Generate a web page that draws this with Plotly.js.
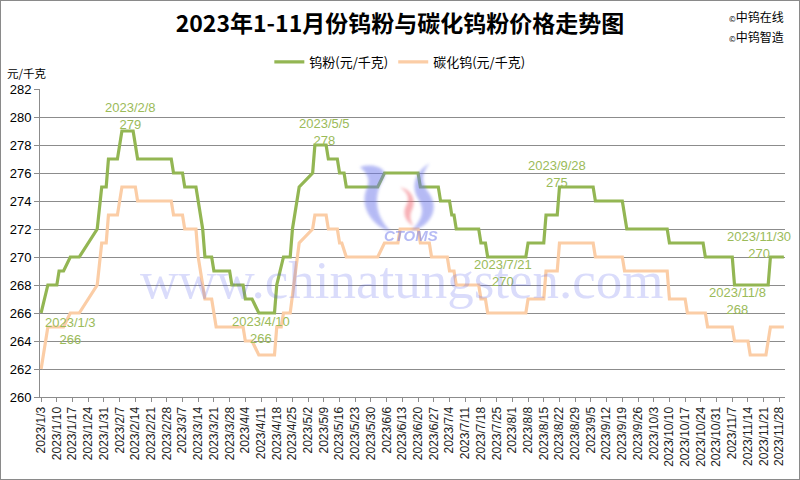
<!DOCTYPE html>
<html>
<head>
<meta charset="utf-8">
<script src="https://cdn.plot.ly/plotly-3.0.1.min.js"></script>
<style>
  html, body { margin: 0; padding: 0; background: #fff; }
  #wrap { position: relative; width: 800px; height: 480px; }
  #chart { width: 800px; height: 480px; }
  #frame { position: absolute; left: 0; top: 0; width: 800px; height: 480px; box-sizing: border-box; border: 1px solid #8a8a8a; pointer-events: none; }
</style>
</head>
<body>
<div id="wrap"><div id="chart"></div><div id="frame"></div></div>
<script>
// ---- Data ----
const seriesNames = ['钨粉(元/千克)', '碳化钨(元/千克)'];

// 钨粉 (tungsten powder) price change points
const powderDates = ['2023-01-03','2023-01-06','2023-01-10','2023-01-11','2023-01-13','2023-01-16','2023-01-20','2023-01-28','2023-01-30','2023-02-01','2023-02-02','2023-02-06','2023-02-08','2023-02-13','2023-02-15','2023-03-02','2023-03-03','2023-03-07','2023-03-08','2023-03-13','2023-03-16','2023-03-17','2023-03-20','2023-03-21','2023-03-28','2023-03-29','2023-04-03','2023-04-04','2023-04-07','2023-04-10','2023-04-17','2023-04-18','2023-04-21','2023-04-24','2023-04-25','2023-04-28','2023-05-04','2023-05-05','2023-05-10','2023-05-11','2023-05-15','2023-05-16','2023-05-18','2023-05-19','2023-06-02','2023-06-05','2023-06-20','2023-06-21','2023-06-29','2023-06-30','2023-07-04','2023-07-05','2023-07-06','2023-07-07','2023-07-17','2023-07-18','2023-07-20','2023-07-21','2023-08-07','2023-08-08','2023-08-15','2023-08-16','2023-08-21','2023-08-22','2023-09-06','2023-09-07','2023-09-19','2023-09-20','2023-09-21','2023-10-09','2023-10-10','2023-10-25','2023-10-26','2023-11-07','2023-11-08','2023-11-23','2023-11-24','2023-11-30'];
const powderValues = [266,268,268,269,269,270,270,272,275,275,277,277,279,279,277,277,276,276,275,275,272,270,270,269,269,268,268,267,267,266,266,268,270,270,272,275,276,278,278,277,277,276,276,275,275,276,276,275,275,274,274,273,273,272,272,271,271,270,270,271,271,273,273,275,275,274,274,273,272,272,271,271,270,270,268,268,270,270];

// 碳化钨 (tungsten carbide powder) price change points
const carbideDates = ['2023-01-03','2023-01-06','2023-01-13','2023-01-16','2023-01-20','2023-01-28','2023-01-30','2023-02-01','2023-02-02','2023-02-06','2023-02-08','2023-02-14','2023-02-15','2023-03-02','2023-03-03','2023-03-07','2023-03-08','2023-03-13','2023-03-14','2023-03-17','2023-03-20','2023-03-22','2023-04-03','2023-04-04','2023-04-07','2023-04-10','2023-04-17','2023-04-18','2023-04-20','2023-04-21','2023-04-24','2023-04-28','2023-05-04','2023-05-05','2023-05-10','2023-05-11','2023-05-15','2023-05-16','2023-05-17','2023-05-19','2023-06-02','2023-06-05','2023-06-11','2023-06-12','2023-06-20','2023-06-21','2023-06-25','2023-06-26','2023-07-03','2023-07-04','2023-07-06','2023-07-07','2023-07-17','2023-07-18','2023-07-20','2023-07-21','2023-08-07','2023-08-08','2023-08-15','2023-08-16','2023-08-21','2023-08-22','2023-09-06','2023-09-07','2023-09-19','2023-09-20','2023-10-09','2023-10-10','2023-10-17','2023-10-18','2023-10-26','2023-10-27','2023-11-07','2023-11-08','2023-11-14','2023-11-15','2023-11-22','2023-11-24','2023-11-30'];
const carbideValues = [262,265,265,266,266,268,271,271,273,273,275,275,274,274,273,273,272,272,270,267,267,265,265,264,264,263,263,265,265,266,266,271,272,273,273,272,272,271,271,270,270,271,271,272,272,271,271,270,270,269,269,268,268,267,267,266,266,267,267,269,269,271,271,270,270,269,269,267,267,266,266,265,265,264,264,263,263,265,265];

// Data labels (text) of the tungsten powder series
const labelDates  = ['2023/1/3','2023/2/8','2023/4/10','2023/5/5','2023/7/21','2023/9/28','2023/11/8','2023/11/30'];
const labelValues = [266, 279, 266, 278, 270, 275, 268, 270];

// Y-axis tick values
const yTicks = [260,262,264,266,268,270,272,274,276,278,280,282];

// ---- Styling / positions (not data) ----
const labelPosX = ['2023-01-15 22:00','2023-02-11 17:00','2023-04-10 22:00','2023-05-09 05:00','2023-07-28 00:00','2023-08-20 19:00','2023-11-09 10:00','2023-11-18 22:00'];
const labelPosY = [264.71, 280.04, 264.8, 278.93, 268.86, 275.93, 266.84, 270.89];

const GREEN = '#93B653';
const LABEL_GREEN = '#9BBB59';
const PEACH = '#FBCDA6';
const GRID = '#8c8c8c';
const CJK = '"Noto Sans CJK SC", "Liberation Sans", sans-serif';
const LAT = '"Liberation Sans", "Noto Sans CJK SC", sans-serif';

const traces = [
  { x: powderDates, y: powderValues, name: seriesNames[0], type: 'scatter', mode: 'lines',
    line: { color: GREEN, width: 3.2 }, hoverinfo: 'x+y' },
  { x: carbideDates, y: carbideValues, name: seriesNames[1], type: 'scatter', mode: 'lines',
    line: { color: PEACH, width: 3.2 }, hoverinfo: 'x+y' }
];

const annotations = labelDates.map((d, i) => ({
  x: labelPosX[i], y: labelPosY[i], xref: 'x', yref: 'y',
  text: d + '<br>' + labelValues[i], showarrow: false,
  xanchor: 'center', yanchor: 'middle',
  font: { family: LAT, size: 13, color: LABEL_GREEN }
}));

annotations.push(
  { xref: 'paper', yref: 'paper', x: -0.047, y: 1.052, xanchor: 'left', yanchor: 'middle',
    text: '元/千克', showarrow: false, font: { family: CJK, size: 11.5, color: '#000' } },
  { xref: 'paper', yref: 'paper', x: 0.922, y: 1.237, xanchor: 'left', yanchor: 'middle',
    text: '<span style="font-size:8px">©</span>中钨在线', showarrow: false, font: { family: CJK, size: 12, color: '#000' } },
  { xref: 'paper', yref: 'paper', x: 0.922, y: 1.169, xanchor: 'left', yanchor: 'middle',
    text: '<span style="font-size:8px">©</span>中钨智造', showarrow: false, font: { family: CJK, size: 12, color: '#000' } },
  { xref: 'paper', yref: 'paper', x: 0.486, y: 0.38, xanchor: 'center', yanchor: 'middle',
    text: 'www.chinatungsten.com', showarrow: false,
    font: { family: '"Liberation Serif", "DejaVu Serif", serif', size: 53, color: 'rgba(70,80,235,0.2)' } }
);

const logoSvg = `<svg xmlns="http://www.w3.org/2000/svg" width="100" height="85" viewBox="0 0 100 85">
<defs><filter id="b" x="-20%" y="-20%" width="140%" height="140%"><feGaussianBlur stdDeviation="1.6"/></filter></defs>
<g filter="url(#b)">
<path d="M10 7 C26 2 40 10 33 20 C24 34 24 56 42 72 C22 66 9 46 17 28 C21 20 17 12 10 7 Z" fill="rgb(110,120,235)"/>
<path d="M80 3 C70 14 72 24 80 34 C90 50 80 66 61 71 C72 60 76 50 68 38 C61 27 65 11 80 3 Z" fill="rgb(110,120,235)"/>
<path d="M50 27 C62 29 67 40 62 50 C59 56 61 62 64 66 C55 61 52 52 57 44 C60 38 58 32 50 27 Z" fill="rgb(240,100,110)"/>
</g>
<text x="61" y="81" text-anchor="middle" font-family="Liberation Sans, sans-serif" font-style="italic" font-weight="bold" font-size="15" fill="rgb(110,120,235)">CTOMS</text>
</svg>`;

const layout = {
  width: 800, height: 480,
  margin: { l: 40, r: 15, t: 89, b: 83, pad: 0 },
  paper_bgcolor: '#ffffff', plot_bgcolor: '#ffffff',
  title: {
    text: '2023年1-11月份钨粉与碳化钨粉价格走势图',
    x: 0.5, xref: 'container', xanchor: 'center',
    y: 0.95, yref: 'container', yanchor: 'middle',
    font: { family: CJK, size: 23, color: '#000', weight: 'bold' }
  },
  showlegend: true,
  legend: {
    orientation: 'h', x: 0.483, xanchor: 'center', y: 1.088, yanchor: 'middle',
    font: { family: CJK, size: 13, color: '#000' }, bgcolor: 'rgba(0,0,0,0)',
    itemwidth: 30, traceorder: 'normal'
  },
  xaxis: {
    type: 'date',
    range: ['2023-01-02 12:00', '2023-11-30 12:00'],
    tick0: '2023-01-03', dtick: 7 * 86400000,
    tickformat: '%Y/%-m/%-d', tickangle: -90,
    ticks: 'outside', ticklen: 4, tickcolor: GRID, tickwidth: 1,
    showgrid: false, showline: true, linecolor: GRID, linewidth: 1,
    tickfont: { family: LAT, size: 12, color: '#222' },
    zeroline: false, fixedrange: true
  },
  yaxis: {
    range: [260, 282], tickvals: yTicks, ticktext: yTicks.map(String),
    ticks: 'outside', ticklen: 5, tickcolor: GRID, tickwidth: 1,
    showgrid: true, gridcolor: GRID, gridwidth: 1,
    showline: true, linecolor: GRID, linewidth: 1,
    tickfont: { family: LAT, size: 13, color: '#000' },
    zeroline: false, fixedrange: true
  },
  annotations: annotations,
  images: [{
    source: 'data:image/svg+xml;charset=utf-8,' + encodeURIComponent(logoSvg),
    xref: 'paper', yref: 'paper',
    x: 0.416, y: 0.769, sizex: 0.134, sizey: 0.276,
    xanchor: 'left', yanchor: 'top', sizing: 'stretch', opacity: 0.5, layer: 'above'
  }]
};

Plotly.newPlot('chart', traces, layout, { displayModeBar: false, staticPlot: true });
</script>
</body>
</html>
